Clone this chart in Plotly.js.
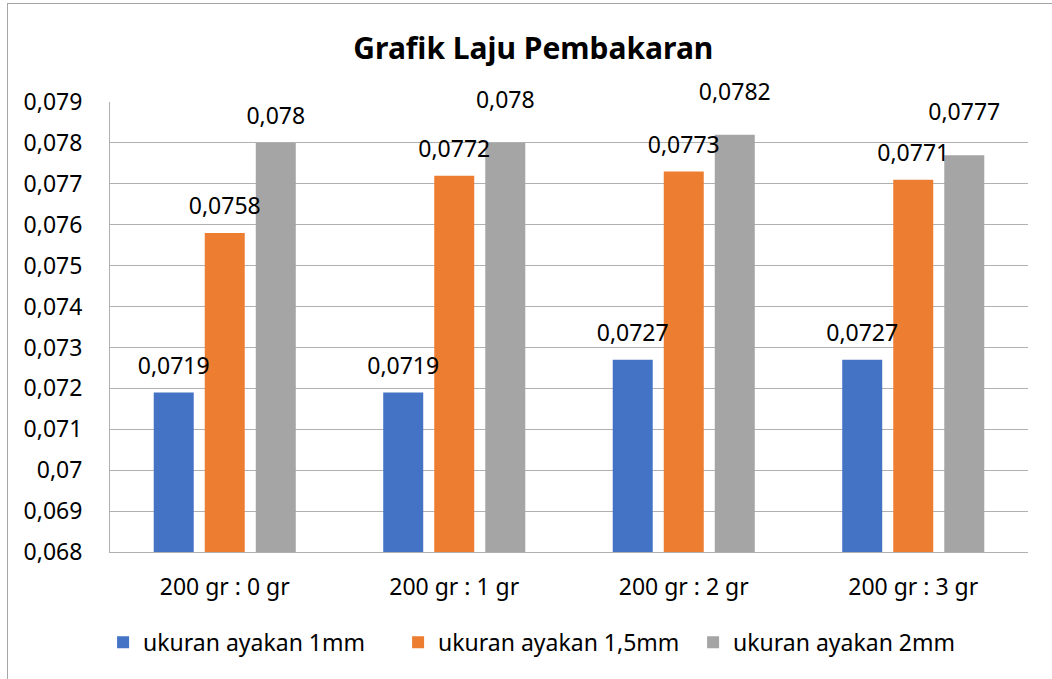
<!DOCTYPE html>
<html>
<head>
<meta charset="utf-8">
<script src="https://cdn.plot.ly/plotly-3.0.1.min.js"></script>
<style>
  html, body { margin: 0; padding: 0; background: #fff; }
  #wrap { position: relative; width: 1052px; height: 679px; overflow: hidden; }
  #chart { position: absolute; left: 0; top: 0; width: 1052px; height: 679px; }
  #frame { position: absolute; left: 7px; top: 3px; width: 1100px; height: 700px;
           border: 1px solid #a6a6a6; pointer-events: none; box-sizing: border-box; }
</style>
</head>
<body>
<div id="wrap"><div id="chart"></div><div id="frame"></div></div>
<script>
const categories = ["200 gr : 0 gr", "200 gr : 1 gr", "200 gr : 2 gr", "200 gr : 3 gr"];
const seriesNames = ["ukuran ayakan 1mm", "ukuran ayakan 1,5mm", "ukuran ayakan 2mm"];
const ayakan1mm = [0.0719, 0.0719, 0.0727, 0.0727];
const ayakan15mm = [0.0758, 0.0772, 0.0773, 0.0771];
const ayakan2mm = [0.078, 0.078, 0.0782, 0.0777];
const tickValues = [0.068, 0.069, 0.07, 0.071, 0.072, 0.073, 0.074, 0.075, 0.076, 0.077, 0.078, 0.079];
const tickLabels = ["0,068", "0,069", "0,07", "0,071", "0,072", "0,073", "0,074", "0,075", "0,076", "0,077", "0,078", "0,079"];

const colors = ["#4472C4", "#ED7D31", "#A5A5A5"];
const series = [ayakan1mm, ayakan15mm, ayakan2mm];
// spacer sizes controlling how far each value label sits above its bar
const labelLift = [[19, 19, 19, 19], [19, 19, 19, 19], [19, 45, 45, 46]];
const FONT = "'Noto Sans', 'Open Sans', sans-serif";
const fmt = v => String(v).replace(".", ",");

const traces = [];
series.forEach((vals, i) => {
  traces.push({
    type: "bar", x: categories, y: vals, name: seriesNames[i],
    marker: { color: colors[i] }, offsetgroup: "g" + i, hoverinfo: "skip"
  });
});
series.forEach((vals, i) => {
  traces.push({
    type: "scatter", mode: "markers+text", x: categories, y: vals,
    marker: { size: labelLift[i], opacity: 0, color: colors[i] },
    text: vals.map(fmt), textposition: "top center",
    textfont: { family: FONT, size: 23, color: "#000" },
    offsetgroup: "g" + i, showlegend: false, hoverinfo: "skip", cliponaxis: false
  });
});

const layout = {
  width: 1052, height: 679,
  margin: { l: 110, r: 24, t: 102, b: 127 },
  paper_bgcolor: "rgba(0,0,0,0)", plot_bgcolor: "#fff",
  separators: ",.",
  font: { family: FONT, size: 23, color: "#000" },
  title: { text: "<b>Grafik Laju Pembakaran</b>", font: { family: FONT, size: 30, color: "#000" },
           x: 0.507, xanchor: "center", y: 0.929, yanchor: "middle", xref: "container", yref: "container" },
  barmode: "group", bargap: 0.333, bargroupgap: 0.216,
  scattermode: "group", scattergap: 0.333,
  showlegend: true,
  legend: { orientation: "h", xref: "container", yref: "container", x: 0.098, xanchor: "left",
            y: 0.054, yanchor: "middle", font: { family: FONT, size: 23, color: "#000" },
            entrywidth: 250, itemclick: false },
  xaxis: { type: "category", showgrid: false, showline: true, linecolor: "#b0b0b0", linewidth: 1,
           ticks: "", ticklabelstandoff: 14, fixedrange: true,
           tickfont: { family: FONT, size: 23, color: "#000" } },
  yaxis: { range: [0.068, 0.079], tickvals: tickValues, ticktext: tickLabels,
           showgrid: true, gridcolor: "#b0b0b0", gridwidth: 1, zeroline: false,
           showline: true, linecolor: "#b0b0b0", linewidth: 1, mirror: false,
           ticks: "", ticklabelstandoff: 22, fixedrange: true,
           tickfont: { family: FONT, size: 23, color: "#000" } }
};

Plotly.newPlot("chart", traces, layout, { displayModeBar: false, staticPlot: true });
</script>
</body>
</html>
